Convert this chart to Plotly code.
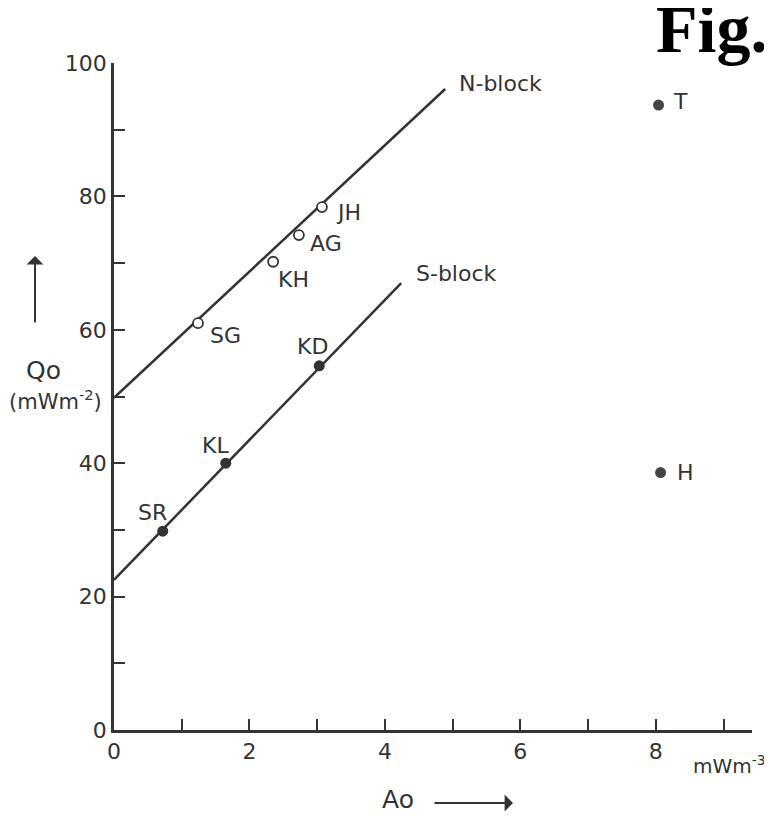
import plotly.graph_objects as go

# ---- data ----
n_names = ["SG", "KH", "AG", "JH"]
n_x = [1.24, 2.35, 2.73, 3.07]
n_y = [61.0, 70.2, 74.2, 78.4]

s_names = ["SR", "KL", "KD"]
s_x = [0.72, 1.65, 3.03]
s_y = [29.8, 40.0, 54.6]

o_names = ["T", "H"]
o_x = [8.04, 8.07]
o_y = [93.7, 38.6]

n_line_x = [0.0, 4.89]
n_line_y = [49.8, 96.1]
s_line_x = [0.0, 4.24]
s_line_y = [22.5, 67.0]

x_tickvals = [0, 1, 2, 3, 4, 5, 6, 7, 8, 9]
x_ticktext = ["0", "", "2", "", "4", "", "6", "", "8", ""]
y_tickvals = [0, 10, 20, 30, 40, 50, 60, 70, 80, 90, 100]
y_ticktext = ["0", "", "20", "", "40", "", "60", "", "80", "", "100"]

# label offsets (pixels) for point annotations
label_offsets = {
    "SG": (10, -12, "left"), "KH": (3, -18, "left"), "AG": (9, -8, "left"),
    "JH": (12, -5, "left"), "KD": (-7, 19, "center"), "KL": (-10, 18, "center"),
    "SR": (-10, 19, "center"), "T": (12, 4, "left"), "H": (14, 0, "left"),
}

INK = "#333333"
FONT = "DejaVu Sans"
LBL = 22

# page offset (browser body margin)
OFF = 8
W, H = 772 - OFF, 816 - OFF
L, R, T, B = 114 - OFF, 20, 63 - OFF, 86
PW, PH = W - L - R, H - T - B


def px(xp):
    return (xp - OFF - L) / PW


def py(yp):
    return (H - B - (yp - OFF)) / PH


fig = go.Figure()
fig.add_trace(go.Scatter(x=n_line_x, y=n_line_y, mode="lines",
                         line=dict(color=INK, width=2.5), hoverinfo="skip"))
fig.add_trace(go.Scatter(x=s_line_x, y=s_line_y, mode="lines",
                         line=dict(color=INK, width=2.5), hoverinfo="skip"))
fig.add_trace(go.Scatter(x=n_x, y=n_y, mode="markers", text=n_names,
                         marker=dict(symbol="circle", size=10, color="white",
                                     line=dict(color=INK, width=1.8))))
fig.add_trace(go.Scatter(x=s_x, y=s_y, mode="markers", text=s_names,
                         marker=dict(symbol="circle", size=11, color=INK)))
fig.add_trace(go.Scatter(x=o_x, y=o_y, mode="markers", text=o_names,
                         marker=dict(symbol="circle", size=11, color="#444444")))

annotations = []
for names, xs, ys in [(n_names, n_x, n_y), (s_names, s_x, s_y), (o_names, o_x, o_y)]:
    for nm, xv, yv in zip(names, xs, ys):
        dx, dy, anc = label_offsets[nm]
        annotations.append(dict(x=xv, y=yv, xref="x", yref="y", text=nm,
                                showarrow=False, xanchor=anc, yanchor="middle",
                                xshift=dx, yshift=dy,
                                font=dict(family=FONT, size=LBL, color=INK)))

annotations.append(dict(x=n_line_x[1], y=n_line_y[1], xref="x", yref="y",
                        text="N-block", showarrow=False, xanchor="left",
                        yanchor="middle", xshift=12, yshift=6,
                        font=dict(family=FONT, size=LBL, color=INK)))
annotations.append(dict(x=s_line_x[1], y=s_line_y[1], xref="x", yref="y",
                        text="S-block", showarrow=False, xanchor="left",
                        yanchor="middle", xshift=13, yshift=10,
                        font=dict(family=FONT, size=LBL, color=INK)))

# axis titles
annotations.append(dict(x=px(43), y=py(370), xref="paper", yref="paper",
                        text="Qo", showarrow=False, xanchor="center", yanchor="middle",
                        font=dict(family=FONT, size=25, color=INK)))
annotations.append(dict(x=px(55), y=py(400), xref="paper", yref="paper",
                        text="(mWm<sup>-2</sup>)", showarrow=False, xanchor="center",
                        yanchor="middle", font=dict(family=FONT, size=21, color=INK)))
annotations.append(dict(x=px(35), y=py(256), xref="paper", yref="paper",
                        ax=0, ay=68, axref="pixel", ayref="pixel", text="",
                        showarrow=True, arrowhead=1, arrowsize=1.4, arrowwidth=2,
                        arrowcolor=INK))
annotations.append(dict(x=px(398), y=py(799), xref="paper", yref="paper",
                        text="Ao", showarrow=False, xanchor="center", yanchor="middle",
                        font=dict(family=FONT, size=25, color=INK)))
annotations.append(dict(x=px(513), y=py(803), xref="paper", yref="paper",
                        ax=-80, ay=0, axref="pixel", ayref="pixel", text="",
                        showarrow=True, arrowhead=1, arrowsize=1.4, arrowwidth=2,
                        arrowcolor=INK))
annotations.append(dict(x=px(729), y=py(765), xref="paper", yref="paper",
                        text="mWm<sup>-3</sup>", showarrow=False, xanchor="center",
                        yanchor="middle", font=dict(family=FONT, size=20, color=INK)))
annotations.append(dict(x=px(654), y=py(29), xref="paper", yref="paper",
                        text="<b>Fig.7</b>", showarrow=False, xanchor="left",
                        yanchor="middle",
                        font=dict(family="Liberation Serif", size=68, color="black")))

fig.update_layout(
    width=W, height=H,
    margin=dict(l=L, r=R, t=T, b=B, pad=0),
    paper_bgcolor="white", plot_bgcolor="white",
    showlegend=False,
    annotations=annotations,
    xaxis=dict(range=[0, 9.42], tickvals=x_tickvals, ticktext=x_ticktext,
               ticks="inside", ticklen=11, tickwidth=2, tickcolor=INK,
               showline=True, linecolor=INK, linewidth=2.5, showgrid=False,
               zeroline=False, tickfont=dict(family=FONT, size=LBL, color=INK)),
    yaxis=dict(range=[0, 100], tickvals=y_tickvals, ticktext=y_ticktext,
               ticks="inside", ticklen=11, tickwidth=2, tickcolor=INK,
               showline=True, linecolor=INK, linewidth=2.5, showgrid=False,
               zeroline=False, tickfont=dict(family=FONT, size=LBL, color=INK)),
)

fig.write_html("out.html")
